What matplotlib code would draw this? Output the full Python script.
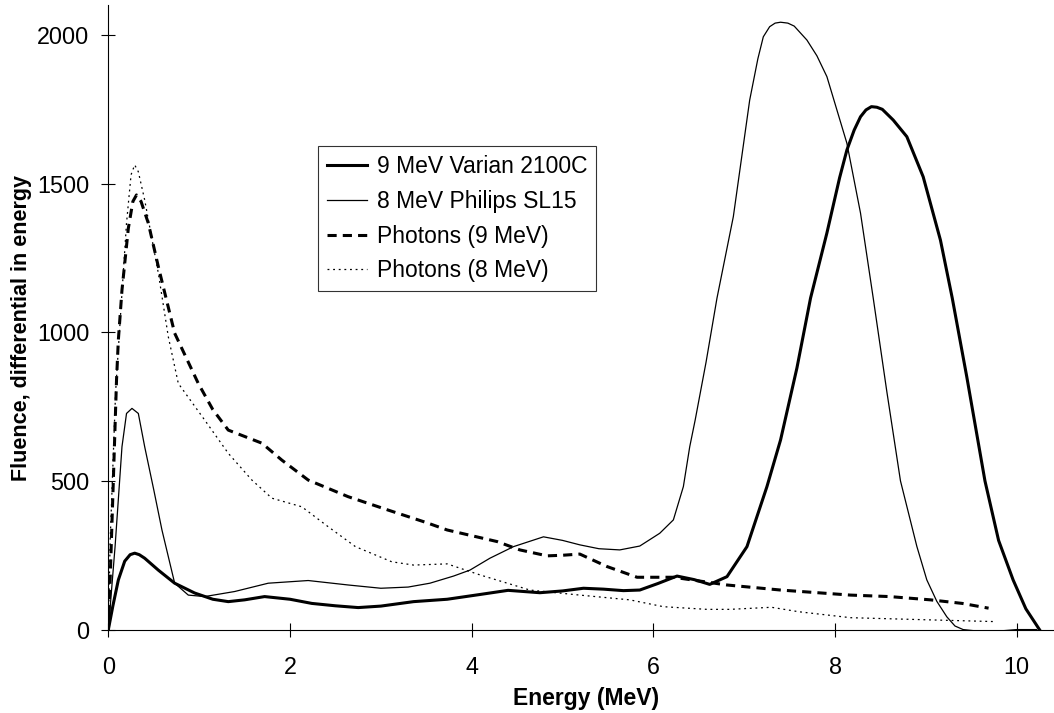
import matplotlib
matplotlib.use("Agg")
import matplotlib.pyplot as plt

plt.rcParams['font.family'] = ['Liberation Sans', 'DejaVu Sans']

# 9 MeV Varian 2100C electrons
varian_x = [0, 0.05, 0.11, 0.18, 0.24, 0.29, 0.34, 0.4, 0.55, 0.73, 0.95, 1.15, 1.32, 1.5, 1.72, 2.0, 2.24,
            2.5, 2.75, 3.0, 3.36, 3.73, 4.09, 4.4, 4.75, 5.0, 5.23, 5.45, 5.67, 5.85, 6.05, 6.26, 6.45,
            6.62, 6.81, 7.03, 7.25, 7.4, 7.58, 7.73, 7.91, 8.05, 8.13, 8.21, 8.28, 8.34, 8.4, 8.46, 8.52,
            8.64, 8.79, 8.97, 9.16, 9.29, 9.45, 9.65, 9.8, 9.96, 10.1, 10.25]
varian_y = [0, 80, 167, 230, 252, 257, 252, 240, 200, 156, 123, 102, 94, 100, 111, 102, 88,
            80, 74, 79, 94, 102, 118, 132, 124, 130, 139, 136, 131, 133, 155, 180, 168,
            152, 178, 279, 481, 638, 880, 1115, 1334, 1520, 1613, 1680, 1725, 1748, 1759, 1757, 1750,
            1714, 1658, 1523, 1310, 1115, 850, 500, 300, 167, 70, 0]

# 8 MeV Philips SL15 electrons
philips_x = [0, 0.074, 0.15, 0.2, 0.26, 0.33, 0.4, 0.5, 0.59, 0.73, 0.88, 1.06, 1.39, 1.76, 2.2, 2.64,
             3.0, 3.3, 3.54, 3.8, 3.98, 4.2, 4.46, 4.79, 5.0, 5.19, 5.4, 5.63, 5.85, 6.07, 6.22, 6.33,
             6.4, 6.46, 6.58, 6.7, 6.88, 7.06, 7.15, 7.21, 7.28, 7.34, 7.4, 7.48, 7.55, 7.69, 7.8, 7.91,
             8.13, 8.28, 8.42, 8.57, 8.72, 8.9, 9.01, 9.12, 9.23, 9.32, 9.41, 9.6, 9.8, 10.0, 10.22]
philips_y = [0, 279, 615, 727, 744, 727, 615, 470, 335, 156, 116, 111, 128, 156, 165, 150,
             139, 143, 156, 180, 200, 240, 279, 312, 300, 285, 272, 268, 281, 324, 369, 481,
             615, 705, 900, 1115, 1389, 1781, 1920, 1994, 2028, 2040, 2043, 2040, 2030, 1983, 1930, 1860,
             1636, 1401, 1115, 800, 500, 280, 167, 95, 43, 12, 0, -6, -5, 0, 0]

# photons, 9 MeV beam
ph9_x = [0, 0.02, 0.055, 0.09, 0.11, 0.15, 0.22, 0.27, 0.31, 0.36, 0.44, 0.55, 0.73, 0.99, 1.15, 1.32,
         1.69, 1.91, 2.2, 2.64, 3.08, 3.5, 3.73, 4.28, 4.53, 4.83, 5.0, 5.19, 5.49, 5.82, 6.22, 6.81,
         7.4, 8.17, 8.6, 9.05, 9.4, 9.69]
ph9_y = [0, 170, 503, 840, 974, 1142, 1350, 1440, 1462, 1440, 1367, 1221, 997, 828, 740, 671,
         627, 570, 503, 447, 402, 360, 335, 296, 268, 248, 250, 254, 212, 176, 176, 150,
         133, 116, 111, 100, 88, 72]

# photons, 8 MeV beam
ph8_x = [0, 0.02, 0.08, 0.14, 0.2, 0.25, 0.29, 0.33, 0.4, 0.55, 0.66, 0.77, 1.06, 1.32, 1.58, 1.8, 2.13,
         2.42, 2.72, 3.12, 3.36, 3.73, 4.09, 4.64, 5.19, 5.74, 6.11, 6.59, 6.84, 7.3, 7.6, 8.17, 9.0, 9.74]
ph8_y = [0, 300, 800, 1086, 1367, 1530, 1563, 1540, 1445, 1199, 985, 828, 705, 593, 503, 442, 413,
         346, 279, 228, 217, 221, 184, 133, 116, 100, 77, 68, 68, 75, 60, 40, 33, 27]

fig = plt.figure(figsize=(10.54, 7.13), dpi=100)
ax = fig.add_axes([0.1028, 0.1170, 0.8972, 0.8756])

ax.plot(varian_x, varian_y, color='black', lw=2.2, label='9 MeV Varian 2100C')
ax.plot(philips_x, philips_y, color='black', lw=0.9, label='8 MeV Philips SL15')
ax.plot(ph9_x, ph9_y, color='black', lw=2.2, ls=(0, (3, 2)), label='Photons (9 MeV)')
ax.plot(ph8_x, ph8_y, color='black', lw=0.9, ls=(0, (1.5, 3)), label='Photons (8 MeV)')

ax.set_xlim(0, 10.41)
ax.set_ylim(0, 2100)
ax.set_xticks([0, 2, 4, 6, 8, 10])
ax.set_yticks([0, 500, 1000, 1500, 2000])
ax.spines['top'].set_visible(False)
ax.spines['right'].set_visible(False)
ax.spines['left'].set_linewidth(0.8)
ax.spines['bottom'].set_linewidth(0.8)
ax.tick_params(axis='x', direction='inout', length=10.5, width=0.8, labelsize=16.8, pad=13.5)
ax.tick_params(axis='y', direction='inout', length=10.5, width=0.8, labelsize=16.8, pad=8.4)

ax.set_xlabel('Energy (MeV)', fontsize=16.5, fontweight='bold', va='center')
ax.xaxis.set_label_coords(0.505, -0.1096)
ax.set_ylabel('Fluence, differential in energy', fontsize=15.5, fontweight='bold', va='center')
ax.yaxis.set_label_coords(-0.0923, 0.483)

leg = ax.legend(loc='upper left', bbox_to_anchor=(0.3017, 0.7952), bbox_transform=fig.transFigure,
                fontsize=16.5, frameon=True, fancybox=False, borderaxespad=0, borderpad=0.38,
                handlelength=1.75, handletextpad=0.44, labelspacing=0.52)
leg.get_frame().set_edgecolor('black')
leg.get_frame().set_linewidth(0.8)

fig.savefig('out.png', dpi=100)
